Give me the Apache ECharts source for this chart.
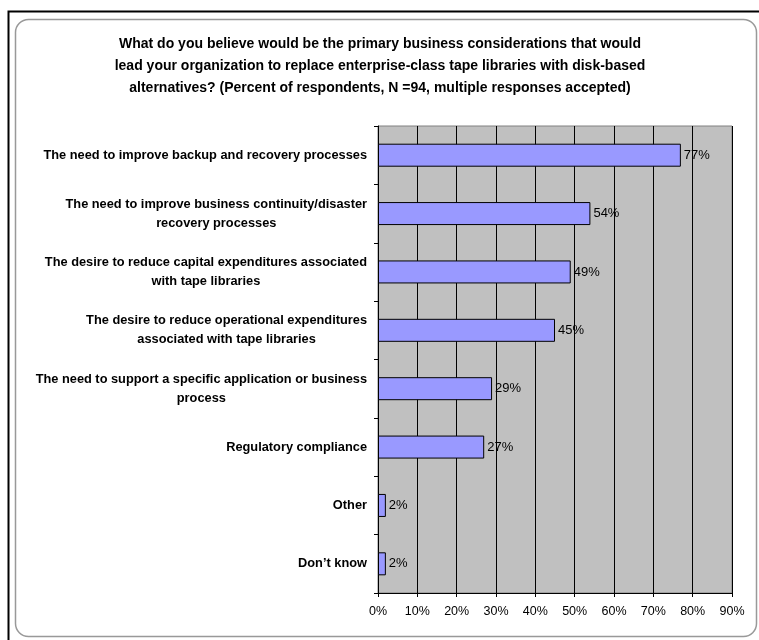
<!DOCTYPE html>
<html>
<head>
<meta charset="utf-8">
<script src="https://cdn.jsdelivr.net/npm/echarts@6/dist/echarts.min.js"></script>
<style>html,body{margin:0;padding:0;background:#fff}#c{width:759px;height:640px}</style>
</head>
<body>
<div id="c"></div>
<script>
const titleText = 'What do you believe would be the primary business considerations that would\nlead your organization to replace enterprise-class tape libraries with disk-based\nalternatives? (Percent of respondents, N =94, multiple responses accepted)';
const categories = [
  'The need to improve backup and recovery processes',
  'The need to improve business continuity/disaster\nrecovery processes',
  'The desire to reduce capital expenditures associated\nwith tape libraries',
  'The desire to reduce operational expenditures\nassociated with tape libraries',
  'The need to support a specific application or business\nprocess',
  'Regulatory compliance',
  'Other',
  'Don\u2019t know'
];
const values = [77, 54, 49, 45, 29, 27, 2, 2];
const xTicks = [0, 10, 20, 30, 40, 50, 60, 70, 80, 90];

const chart = echarts.init(document.getElementById('c'), null, {renderer: 'canvas'});
chart.setOption({
  animation: false,
  backgroundColor: '#fff',
  textStyle: {fontFamily: 'Liberation Sans, Arial, sans-serif'},
  graphic: [
    {type: 'rect', shape: {x: 8.5, y: 11.5, width: 800, height: 700}, style: {fill: 'none', stroke: '#000', lineWidth: 2}, silent: true},
    {type: 'rect', shape: {x: 15.5, y: 19.5, width: 741, height: 617, r: 13}, style: {fill: 'none', stroke: '#999', lineWidth: 1.5}, silent: true},
    {type: 'text', x: 380, y: 33, style: {text: titleText, fontFamily: 'Liberation Sans, Arial, sans-serif', fontWeight: 'bold', fontSize: 14, lineHeight: 22, align: 'center', verticalAlign: 'top', fill: '#000'}}
  ],
  grid: {left: 378, right: 27, top: 126, bottom: 47, show: true, backgroundColor: '#C0C0C0', borderColor: '#808080', borderWidth: 1, containLabel: false},
  xAxis: {
    type: 'value', min: 0, max: 90, interval: 10,
    axisLine: {show: true, lineStyle: {color: '#000', width: 1}},
    axisTick: {show: true, length: 4, lineStyle: {color: '#000'}},
    splitLine: {show: true, lineStyle: {color: '#000', width: 1}},
    axisLabel: {formatter: v => xTicks.includes(v) ? v + '%' : '', color: '#000', fontSize: 12.5, margin: 12, fontFamily: 'Liberation Sans, Arial, sans-serif'}
  },
  yAxis: {
    type: 'category', data: categories, inverse: true,
    axisLine: {show: true, lineStyle: {color: '#000', width: 1}},
    axisTick: {show: true, length: 4, lineStyle: {color: '#000'}},
    splitLine: {show: false},
    axisLabel: {
      margin: 11, color: '#000',
      formatter: v => v.split('\n').map(s => '{a|' + s + '}').join('\n'),
      rich: {a: {fontWeight: 'bold', fontSize: 12.8, lineHeight: 19, align: 'center', fontFamily: 'Liberation Sans, Arial, sans-serif', color: '#000'}}
    }
  },
  series: [{
    type: 'bar', data: values, barWidth: 23,
    itemStyle: {color: '#9999FF', borderColor: '#000', borderWidth: 1},
    label: {show: true, position: 'right', distance: 3, formatter: p => p.value + '%', color: '#000', fontSize: 13, fontFamily: 'Liberation Sans, Arial, sans-serif'}
  }]
});
</script>
</body>
</html>
